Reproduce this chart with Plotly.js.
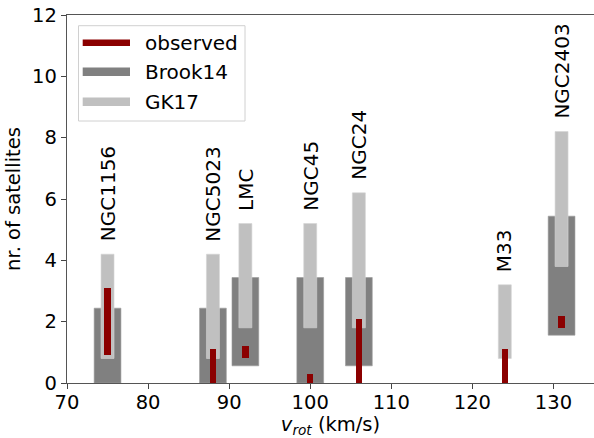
<!DOCTYPE html>
<html>
<head>
<meta charset="utf-8">
<script src="https://cdn.plot.ly/plotly-3.0.1.min.js"></script>
<style>html,body{margin:0;padding:0;background:#fff;}#chart{width:594px;height:438px;}</style>
</head>
<body>
<div id="chart"></div>
<script>
// Galaxies and rotation velocities
var names = ['NGC1156','NGC5023','LMC','NGC45','NGC24','M33','NGC2403'];
var vrot = [75, 88, 92, 100, 106, 124, 131];
// Visible extents
var obsLow    = [0.9, 0,   0.8, 0,   0,   0,   1.8];
var obsHigh   = [3.1, 1.1, 1.2, 0.3, 2.1, 1.1, 2.2];
var brookLow  = [0,    0,    0.56, 0,    0.56, null, 1.56];
var brookHigh = [2.44, 2.44, 3.44, 3.44, 3.44, null, 5.44];
var gkLow     = [0.8, 0.8, 1.8, 1.8, 1.8, 0.8, 3.8];
var gkHigh    = [4.2, 4.2, 5.2, 5.2, 6.2, 3.2, 8.2];
var xTicks = [70, 80, 90, 100, 110, 120, 130];
var yTicks = [0, 2, 4, 6, 8, 10, 12];
var legendLabels = ['observed', 'Brook14', 'GK17'];

var cObs = '#8b0000', cBrook = '#808080', cGK = '#c0c0c0';
var FONT = 'DejaVu Sans, Liberation Sans, sans-serif';
var W = 594, H = 438;
var M = {l: 67, r: 0, t: 15, b: 55};

function heights(lo, hi) { return lo.map(function (v, i) { return (v === null || hi[i] === null) ? null : hi[i] - v; }); }

var traces = [
  {type: 'bar', x: vrot, base: brookLow, y: heights(brookLow, brookHigh), width: 3.3,
   marker: {color: cBrook, line: {color: '#9a9a9a', width: 0.6}}, showlegend: false, hoverinfo: 'skip'},
  {type: 'bar', x: vrot, base: gkLow, y: heights(gkLow, gkHigh), width: 1.6,
   marker: {color: cGK, line: {color: '#d4d4d4', width: 0.6}}, showlegend: false, hoverinfo: 'skip'},
  {type: 'bar', x: vrot, base: obsLow, y: heights(obsLow, obsHigh), width: 0.8,
   marker: {color: cObs, line: {width: 0}}, showlegend: false, hoverinfo: 'skip'}
];

var annotations = names.map(function (n, i) {
  return {x: vrot[i], y: gkHigh[i], xref: 'x', yref: 'y', text: n, showarrow: false,
          textangle: -90, xanchor: 'center', yanchor: 'bottom', yshift: 11,
          font: {family: FONT, size: 20, color: '#000'}};
});

// custom legend (pixel positions converted to paper coordinates)
var pw = W - M.l - M.r, ph = H - M.t - M.b;
function px(x) { return (x - M.l) / pw; }
function py(y) { return (H - M.b - y) / ph; }
var shapes = [
  {type: 'rect', xref: 'paper', yref: 'paper', x0: px(78.5), x1: px(245), y0: py(121), y1: py(25.7),
   fillcolor: 'rgba(255,255,255,0.8)', line: {color: '#d0d0d0', width: 1}}
];
var legColors = [cObs, cBrook, cGK];
var legWidths = [6.5, 8.5, 8.5];
var legY = [42.7, 71.7, 101.7];
legendLabels.forEach(function (lab, i) {
  shapes.push({type: 'line', xref: 'paper', yref: 'paper', x0: px(82.7), x1: px(130), y0: py(legY[i]), y1: py(legY[i]),
               line: {color: legColors[i], width: legWidths[i]}});
  annotations.push({xref: 'paper', yref: 'paper', x: px(143), y: py(legY[i]), text: lab, showarrow: false,
                    xanchor: 'left', yanchor: 'middle', font: {family: FONT, size: 20, color: '#000'}});
});

var layout = {
  width: W, height: H, margin: M,
  paper_bgcolor: '#fff', plot_bgcolor: '#fff',
  barmode: 'overlay', bargap: 0,
  font: {family: FONT, size: 20, color: '#000'},
  xaxis: {range: [70, 135], tickvals: xTicks, ticktext: xTicks.map(String), ticks: 'outside', ticklen: 5, tickwidth: 1,
          tickcolor: '#444', showline: true, linecolor: '#555', linewidth: 1.2, mirror: true, showgrid: false, zeroline: false,
          tickfont: {family: FONT, size: 19.5, color: '#000'}, ticklabelstandoff: -4,
          title: {text: '<i>v</i><sub><i>rot</i></sub> (km/s)', font: {family: FONT, size: 19.5, color: '#000'}, standoff: 0},
          automargin: false},
  yaxis: {range: [0, 12], tickvals: yTicks, ticktext: yTicks.map(String), ticks: 'outside', ticklen: 5, tickwidth: 1,
          tickcolor: '#444', showline: true, linecolor: '#555', linewidth: 1.2, mirror: false, showgrid: false, zeroline: false,
          tickfont: {family: FONT, size: 19.5, color: '#000'},
          title: {text: 'nr. of satellites', font: {family: FONT, size: 19.5, color: '#000'}, standoff: 6},
          automargin: false},
  shapes: shapes,
  annotations: annotations,
  showlegend: false
};

Plotly.newPlot('chart', traces, layout, {displayModeBar: false, staticPlot: true});
</script>
</body>
</html>
